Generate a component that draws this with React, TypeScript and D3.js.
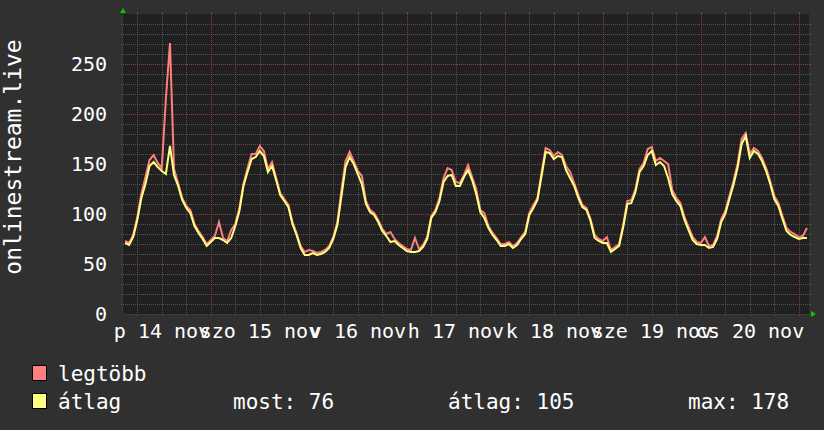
import React from "react";
import * as d3 from "d3";

// hourly samples starting Nov 14 ~02:57
const maxValues = [
  73, 71, 79, 97, 120, 137, 154, 159, 151, 146, 215, 271, 145, 131, 116, 108, 104, 90, 83, 77,
  70, 74, 78, 92, 76, 73, 84, 90, 106, 130, 146, 160, 160, 168, 163, 145, 152, 136, 121, 115,
  109, 92, 81, 68, 62, 64, 63, 61, 62, 64, 68, 77, 92, 124, 153, 162, 153, 143, 138, 113,
  104, 101, 94, 85, 80, 82, 75, 71, 68, 65, 64, 76, 65, 69, 77, 98, 104, 116, 136, 146,
  144, 132, 131, 139, 149, 137, 125, 104, 101, 88, 81, 76, 70, 70, 72, 68, 71, 77, 82, 101,
  109, 116, 141, 166, 164, 158, 162, 159, 148, 142, 131, 119, 109, 106, 95, 79, 75, 73, 77, 64,
  67, 70, 89, 113, 114, 125, 145, 151, 165, 167, 153, 156, 153, 150, 124, 116, 111, 97, 87, 77,
  72, 71, 77, 68, 69, 78, 95, 103, 118, 133, 150, 175, 181, 160, 166, 163, 156, 146, 133, 118,
  111, 98, 86, 82, 80, 77, 78, 86,
];
const avgValues = [
  71, 69, 77, 94, 116, 130, 148, 152, 147, 143, 140, 168, 139, 128, 114, 106, 101, 88, 81, 75,
  68, 72, 76, 76, 74, 71, 76, 88, 103, 128, 142, 155, 157, 163, 158, 142, 148, 134, 119, 113,
  107, 90, 79, 66, 59, 59, 61, 59, 60, 62, 66, 75, 89, 118, 147, 157, 150, 140, 130, 110,
  102, 99, 92, 83, 78, 72, 73, 69, 66, 63, 62, 62, 63, 67, 75, 96, 102, 113, 132, 138,
  139, 128, 128, 137, 144, 134, 120, 102, 96, 86, 79, 74, 68, 68, 70, 66, 69, 75, 80, 99,
  106, 114, 138, 162, 161, 155, 158, 157, 144, 136, 128, 116, 107, 104, 93, 76, 73, 71, 71, 62,
  65, 68, 87, 110, 111, 122, 142, 148, 159, 163, 149, 152, 148, 136, 120, 113, 108, 94, 84, 74,
  70, 69, 69, 66, 67, 75, 92, 100, 115, 129, 146, 170, 178, 156, 163, 160, 153, 143, 130, 115,
  108, 95, 83, 79, 77, 75, 76, 76,
];
const dayLabels = ["p 14 nov", "szo 15 nov", "v 16 nov", "h 17 nov", "k 18 nov", "sze 19 nov", "cs 20 nov"];
const yTicks = [0, 50, 100, 150, 200, 250];
const yTitle = "onlinestream.live";
const legendNames = ["legtöbb", "átlag"];
const legendStats = ["most: 76", "átlag: 105", "max: 178"];

const W = 824;
const H = 430;
const PL = 123;
const PR = 809;
const PT = 14;
const PB = 314;

const start = new Date(Date.UTC(2025, 10, 14, 2, 27));
const end = new Date(start.getTime() + 7 * 24 * 3600 * 1000);
const firstSample = new Date(start.getTime() + 30 * 60 * 1000);

const COL_MAX = "#ff7f7f";
const COL_AVG = "#ffff80";
const FONT = "'DejaVu Sans Mono', monospace";

export default function App() {
  const x = d3.scaleUtc().domain([start, end]).range([PL, PR]);
  const y = d3.scaleLinear().domain([0, 300]).range([PB, PT]);
  const t = (i: number) => d3.utcHour.offset(firstSample, i);

  const line = d3
    .line<number>()
    .x((_, i) => x(t(i)))
    .y((d) => y(d));

  const minorY = d3.range(10, 300, 10).filter((v) => v % 50 !== 0);
  const majorY = [50, 100, 150, 200, 250];
  const minorX = d3.utcHour.every(6)!.range(start, end).filter((d) => d.getUTCHours() !== 0);
  const majorX = d3.utcDay.range(start, end);
  const noons = d3.utcDay.range(d3.utcDay.floor(start), end).map((d) => new Date(d.getTime() + 12 * 3600 * 1000));

  const minorCol = "#555555";
  const majorCol = "#8a4040";

  return (
    <svg width={W} height={H} style={{ position: "absolute", left: 0, top: 0, background: "#303030" }}>
      <rect x={0} y={0} width={W} height={H} fill="#303030" />
      <rect x={PL} y={PT} width={PR - PL} height={PB - PT} fill="#202020" />
      {minorY.map((v) => (
        <g key={"my" + v}>
          <line x1={PL} x2={PR} y1={y(v) + 0.5} y2={y(v) + 0.5} stroke={minorCol} strokeDasharray="1,1" />
          <line x1={PL - 2} x2={PL} y1={y(v) + 0.5} y2={y(v) + 0.5} stroke={minorCol} />
          <line x1={PR} x2={PR + 2} y1={y(v) + 0.5} y2={y(v) + 0.5} stroke={minorCol} />
        </g>
      ))}
      {minorX.map((d) => (
        <g key={"mx" + d.getTime()}>
          <line x1={Math.round(x(d)) + 0.5} x2={Math.round(x(d)) + 0.5} y1={PT} y2={PB} stroke={minorCol} strokeDasharray="1,1" />
          <line x1={Math.round(x(d)) + 0.5} x2={Math.round(x(d)) + 0.5} y1={PT - 2} y2={PT} stroke={minorCol} />
          <line x1={Math.round(x(d)) + 0.5} x2={Math.round(x(d)) + 0.5} y1={PB} y2={PB + 2} stroke={minorCol} />
        </g>
      ))}
      {majorY.map((v) => (
        <g key={"My" + v}>
          <line x1={PL} x2={PR} y1={y(v) + 0.5} y2={y(v) + 0.5} stroke={majorCol} strokeDasharray="1,1" />
          <line x1={PL - 2} x2={PL} y1={y(v) + 0.5} y2={y(v) + 0.5} stroke={majorCol} />
          <line x1={PR} x2={PR + 2} y1={y(v) + 0.5} y2={y(v) + 0.5} stroke={majorCol} />
        </g>
      ))}
      {majorX.map((d) => (
        <g key={"Mx" + d.getTime()}>
          <line x1={Math.round(x(d)) + 0.5} x2={Math.round(x(d)) + 0.5} y1={PT} y2={PB} stroke={majorCol} strokeDasharray="1,1" />
          <line x1={Math.round(x(d)) + 0.5} x2={Math.round(x(d)) + 0.5} y1={PT - 2} y2={PT} stroke={majorCol} />
          <line x1={Math.round(x(d)) + 0.5} x2={Math.round(x(d)) + 0.5} y1={PB} y2={PB + 2} stroke={majorCol} />
        </g>
      ))}
      {/* axes */}
      <line x1={PL - 0.5} x2={PL - 0.5} y1={PT - 4} y2={PB + 1} stroke="#3a3a3a" />
      <line x1={PL - 1} x2={PR + 3} y1={PB + 0.5} y2={PB + 0.5} stroke="#3a3a3a" />
      <path d={`M${PL - 3},${PT - 1} L${PL + 3},${PT - 1} L${PL},${PT - 6} Z`} fill="#00cc00" />
      <path d={`M${PR + 2},${PB - 3} L${PR + 2},${PB + 3} L${PR + 7},${PB} Z`} fill="#00cc00" />

      {/* series */}
      <path d={line(maxValues) || ""} fill="none" stroke={COL_MAX} strokeWidth={2} strokeLinejoin="miter" />
      <path d={line(avgValues) || ""} fill="none" stroke={COL_AVG} strokeWidth={2} strokeLinejoin="miter" />

      {/* y labels */}
      {yTicks.map((v) => (
        <text key={"yl" + v} x={107} y={y(v)} dy="0.36em" textAnchor="end" fill="#ffffff" fontFamily={FONT} fontSize={20}>
          {v}
        </text>
      ))}
      {/* x labels */}
      {noons.map((d, i) => (
        <text key={"xl" + i} x={x(d)} y={338} textAnchor="middle" fill="#ffffff" fontFamily={FONT} fontSize={20}>
          {dayLabels[i]}
        </text>
      ))}
      <text
        transform={`translate(21,157) rotate(-90)`}
        textAnchor="middle"
        fill="#ffffff"
        fontFamily={FONT}
        fontSize={23}
      >
        {yTitle}
      </text>

      {/* legend */}
      <rect x={32.5} y={365.5} width={14} height={15} fill={COL_MAX} stroke="#000" />
      <text x={58} y={381} fill="#ffffff" fontFamily={FONT} fontSize={21}>
        {legendNames[0]}
      </text>
      <rect x={32.5} y={393.5} width={14} height={15} fill={COL_AVG} stroke="#000" />
      <text x={58} y={409} fill="#ffffff" fontFamily={FONT} fontSize={21}>
        {legendNames[1]}
      </text>
      <text x={233} y={409} fill="#ffffff" fontFamily={FONT} fontSize={21}>
        {legendStats[0]}
      </text>
      <text x={448} y={409} fill="#ffffff" fontFamily={FONT} fontSize={21}>
        {legendStats[1]}
      </text>
      <text x={688} y={409} fill="#ffffff" fontFamily={FONT} fontSize={21}>
        {legendStats[2]}
      </text>
    </svg>
  );
}
